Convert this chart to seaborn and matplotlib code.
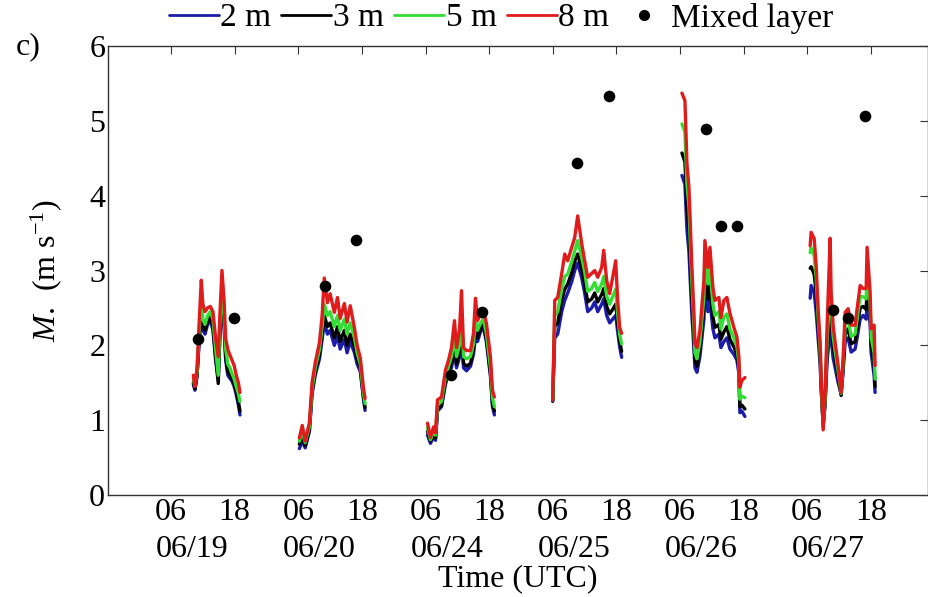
import numpy as np
import pandas as pd
import matplotlib
matplotlib.use("Agg")
import matplotlib.pyplot as plt
from matplotlib.lines import Line2D
import seaborn as sns

# ---------------- data ----------------
days = ["06/19", "06/20", "06/24", "06/25", "06/26", "06/27"]
heights = ["2 m", "3 m", "5 m", "8 m"]

t1 = [10.2, 10.5, 10.9, 11.3, 11.7, 12.0, 12.4, 12.9, 13.4, 13.9, 14.4, 14.9, 15.2, 15.6, 16.0, 16.3, 16.7, 17.1, 17.5, 17.9, 18.3, 18.7, 19.0]
r1 = [1.60, 1.45, 1.70, 2.30, 2.87, 2.55, 2.45, 2.50, 2.52, 2.45, 2.10, 1.85, 2.40, 3.00, 2.60, 2.09, 1.95, 1.87, 1.80, 1.73, 1.60, 1.50, 1.37]
g1 = [1.55, 1.45, 1.65, 2.20, 2.60, 2.35, 2.28, 2.40, 2.45, 2.35, 1.95, 1.60, 2.25, 2.80, 2.40, 1.95, 1.75, 1.70, 1.62, 1.55, 1.45, 1.35, 1.25]
k1 = [1.50, 1.42, 1.60, 2.10, 2.45, 2.25, 2.20, 2.32, 2.38, 2.25, 1.85, 1.49, 2.15, 2.70, 2.30, 1.85, 1.65, 1.60, 1.55, 1.48, 1.38, 1.25, 1.12]
b1 = [1.48, 1.40, 1.58, 2.05, 2.40, 2.20, 2.15, 2.28, 2.34, 2.20, 1.80, 1.55, 2.10, 2.65, 2.25, 1.80, 1.60, 1.56, 1.52, 1.45, 1.34, 1.20, 1.07]

t2 = [6.2, 6.75, 7.3, 8.1, 8.6, 9.2, 10.0, 10.5, 10.9, 11.5, 12.0, 12.8, 13.4, 13.9, 14.7, 15.2, 15.8, 16.6, 17.1, 17.7, 18.3, 18.6]
r2 = [0.76, 0.93, 0.72, 0.97, 1.50, 1.77, 2.04, 2.40, 2.90, 2.57, 2.69, 2.44, 2.64, 2.36, 2.56, 2.31, 2.53, 2.23, 2.00, 1.83, 1.43, 1.29]
g2 = [0.72, 0.85, 0.70, 0.92, 1.42, 1.70, 1.95, 2.25, 2.55, 2.40, 2.45, 2.25, 2.40, 2.20, 2.35, 2.15, 2.30, 2.10, 1.90, 1.75, 1.35, 1.22]
k2 = [0.68, 0.78, 0.66, 0.88, 1.38, 1.65, 1.88, 2.15, 2.40, 2.25, 2.30, 2.10, 2.25, 2.05, 2.20, 2.00, 2.15, 1.98, 1.82, 1.70, 1.30, 1.17]
b2 = [0.62, 0.72, 0.63, 0.85, 1.35, 1.60, 1.82, 2.08, 2.30, 2.15, 2.20, 2.00, 2.12, 1.95, 2.08, 1.90, 2.05, 1.90, 1.75, 1.65, 1.28, 1.13]

t3 = [6.38, 6.94, 7.51, 7.89, 8.26, 9.02, 9.77, 10.34, 10.9, 11.47, 11.85, 12.41, 12.79, 13.17, 13.73, 14.49, 15.05, 15.43, 15.81, 16.37, 16.94, 17.5, 18.26, 18.63, 19.0]
r3 = [0.96, 0.77, 0.91, 0.83, 1.27, 1.31, 1.67, 1.80, 1.97, 2.33, 1.97, 2.20, 2.73, 1.97, 1.93, 1.93, 2.16, 2.63, 2.33, 2.42, 2.47, 2.29, 1.84, 1.40, 1.31]
g3 = [0.90, 0.74, 0.85, 0.80, 1.20, 1.25, 1.58, 1.72, 1.85, 2.10, 1.85, 2.00, 2.40, 1.85, 1.82, 1.85, 2.02, 2.35, 2.20, 2.30, 2.35, 2.15, 1.70, 1.30, 1.18]
k3 = [0.85, 0.72, 0.80, 0.76, 1.15, 1.20, 1.52, 1.66, 1.76, 1.98, 1.75, 1.90, 2.25, 1.76, 1.72, 1.76, 1.94, 2.20, 2.10, 2.22, 2.28, 2.08, 1.62, 1.22, 1.12]
b3 = [0.80, 0.69, 0.78, 0.73, 1.12, 1.18, 1.48, 1.62, 1.70, 1.92, 1.70, 1.84, 2.15, 1.70, 1.66, 1.72, 1.88, 2.12, 2.05, 2.18, 2.24, 2.04, 1.58, 1.18, 1.07]

t4 = [6.0, 6.38, 6.94, 7.7, 8.26, 8.83, 9.58, 10.15, 10.71, 11.47, 12.03, 12.6, 13.35, 13.92, 14.49, 15.24, 15.62, 16.18, 16.75, 17.31, 17.88, 18.26, 18.63, 19.0]
r4 = [1.27, 2.60, 2.64, 2.96, 3.22, 3.13, 3.31, 3.44, 3.73, 3.36, 3.13, 2.91, 2.96, 3.00, 2.91, 3.04, 3.27, 2.87, 2.69, 2.91, 3.13, 2.60, 2.24, 2.16]
g4 = [1.27, 2.40, 2.45, 2.75, 2.92, 2.95, 3.12, 3.26, 3.40, 3.18, 2.98, 2.72, 2.76, 2.84, 2.72, 2.82, 2.92, 2.66, 2.55, 2.65, 2.75, 2.42, 2.14, 2.02]
k4 = [1.26, 2.25, 2.30, 2.60, 2.75, 2.82, 2.97, 3.12, 3.22, 3.02, 2.82, 2.58, 2.62, 2.70, 2.58, 2.68, 2.76, 2.52, 2.42, 2.48, 2.55, 2.30, 2.06, 1.92]
b4 = [1.25, 2.10, 2.15, 2.45, 2.60, 2.70, 2.85, 3.00, 3.10, 2.90, 2.70, 2.45, 2.50, 2.58, 2.45, 2.55, 2.62, 2.40, 2.30, 2.35, 2.40, 2.18, 1.98, 1.84]

t5 = [6.38, 6.94, 7.13, 7.32, 7.7, 7.89, 8.26, 8.64, 8.83, 9.21, 9.77, 10.53, 10.71, 11.28, 11.66, 12.22, 12.6, 13.35, 13.73, 14.3, 14.86, 15.43, 16.18, 16.75, 17.13, 17.31, 17.69, 18.26]
r5 = [5.37, 5.27, 4.87, 4.43, 4.11, 3.76, 3.04, 2.43, 2.03, 1.97, 2.20, 2.87, 3.40, 3.04, 3.31, 2.77, 2.60, 2.64, 2.37, 2.60, 2.64, 2.43, 2.24, 2.11, 1.84, 1.44, 1.53, 1.57]
g5 = [4.96, 4.85, 4.50, 4.15, 3.85, 3.50, 2.82, 2.25, 1.90, 1.82, 2.05, 2.65, 3.15, 2.82, 3.02, 2.55, 2.40, 2.45, 2.22, 2.38, 2.42, 2.22, 2.10, 1.98, 1.76, 1.28, 1.32, 1.30]
k5 = [4.57, 4.45, 4.15, 3.85, 3.55, 3.25, 2.60, 2.10, 1.80, 1.72, 1.95, 2.50, 2.95, 2.62, 2.80, 2.38, 2.24, 2.28, 2.08, 2.18, 2.25, 2.08, 1.98, 1.88, 1.70, 1.18, 1.20, 1.15]
b5 = [4.27, 4.15, 3.85, 3.55, 3.25, 2.95, 2.40, 1.95, 1.70, 1.64, 1.85, 2.35, 2.75, 2.45, 2.60, 2.22, 2.10, 2.15, 1.97, 2.05, 2.10, 1.95, 1.88, 1.80, 1.62, 1.10, 1.12, 1.05]

t6 = [6.57, 6.75, 7.32, 7.7, 8.07, 8.45, 8.64, 9.02, 9.39, 9.77, 10.34, 10.53, 10.9, 11.28, 11.85, 12.41, 12.79, 13.17, 13.73, 14.3, 15.05, 15.43, 16.0, 16.56, 17.13, 17.31, 17.88, 18.07, 18.63, 18.82]
r6 = [3.33, 3.51, 3.43, 3.07, 2.49, 2.04, 1.60, 0.87, 1.37, 2.27, 3.43, 2.71, 2.27, 2.04, 1.73, 1.37, 1.83, 2.44, 2.49, 2.27, 2.27, 2.49, 2.80, 2.76, 2.76, 3.31, 2.71, 2.22, 2.27, 1.73]
g6 = [3.24, 3.30, 3.20, 2.90, 2.38, 1.95, 1.55, 0.90, 1.30, 2.08, 2.75, 2.50, 2.12, 1.92, 1.65, 1.36, 1.78, 2.28, 2.35, 2.12, 2.15, 2.35, 2.65, 2.65, 2.62, 2.95, 2.58, 2.10, 1.90, 1.55]
k6 = [3.03, 3.05, 2.95, 2.70, 2.25, 1.85, 1.48, 0.92, 1.25, 1.95, 2.50, 2.35, 2.00, 1.82, 1.58, 1.33, 1.72, 2.15, 2.22, 2.02, 2.05, 2.22, 2.50, 2.52, 2.48, 2.75, 2.45, 2.00, 1.75, 1.45]
b6 = [2.63, 2.80, 2.70, 2.45, 2.10, 1.75, 1.40, 0.95, 1.20, 1.80, 2.20, 2.10, 1.83, 1.70, 1.50, 1.35, 1.65, 2.05, 2.10, 1.91, 1.95, 2.10, 2.35, 2.40, 2.35, 2.55, 2.30, 1.90, 1.60, 1.37]

# Mixed layer values: day index, local hour, value
ml_day = [0, 0, 1, 1, 2, 2, 3, 3, 4, 4, 4, 5, 5, 5]
ml_hour = [11.1, 17.9, 11.0, 16.9, 10.8, 16.6, 10.6, 16.6, 10.9, 13.7, 16.7, 10.8, 13.7, 16.9]
ml_val = [2.09, 2.37, 2.79, 3.41, 1.61, 2.45, 4.43, 5.33, 4.89, 3.59, 3.59, 2.47, 2.36, 5.07]

tick_hours = [6, 18]
tick_labels = ["06", "18"]

# ---------------- build long table ----------------
times = [t1, t2, t3, t4, t5, t6]
series = {
    "2 m": [b1, b2, b3, b4, b5, b6],
    "3 m": [k1, k2, k3, k4, k5, k6],
    "5 m": [g1, g2, g3, g4, g5, g6],
    "8 m": [r1, r2, r3, r4, r5, r6],
}
rows = []
for h in heights:
    for d, (tt, vv) in enumerate(zip(times, series[h])):
        for t, v in zip(tt, vv):
            rows.append({"x": 24 * d + t, "M": v, "height": h, "day": d})
df = pd.DataFrame(rows)
ml = pd.DataFrame({"x": [24 * d + h for d, h in zip(ml_day, ml_hour)], "M": ml_val})

# ---------------- style ----------------
sns.set_theme(style="white")
plt.rcParams["font.family"] = ["Liberation Serif", "DejaVu Serif"]
plt.rcParams["mathtext.fontset"] = "custom"
plt.rcParams["mathtext.rm"] = "Liberation Serif"
plt.rcParams["mathtext.it"] = "Liberation Serif:italic"
plt.rcParams["text.color"] = "black"

FS = 23
palette = {"2 m": "#1c1ca8", "3 m": "#000000", "5 m": "#33dd33", "8 m": "#e01b1b"}

fig = plt.figure(figsize=(9.29, 5.97), dpi=100)
ax = fig.add_axes([108 / 929, 102 / 597, 820 / 929, 449 / 597])

sns.lineplot(data=df, x="x", y="M", hue="height", units="day", estimator=None,
             sort=False, palette=palette, hue_order=heights, linewidth=2.4,
             legend=False, ax=ax)
sns.scatterplot(data=ml, x="x", y="M", color="black", s=70, edgecolor="black",
                linewidth=0, ax=ax, zorder=5)

ax.set_xlim(-5.9, 148.8)
ax.set_ylim(0, 6)
ax.set_yticks(range(0, 7))
major = [24 * d + h for d in range(len(days)) for h in tick_hours]
ax.set_xticks(major, tick_labels * len(days))
ax.set_xticks([24 * d + 10 for d in range(len(days))], days, minor=True)
ax.tick_params(axis="both", which="major", direction="in", length=6, width=0.8,
               top=True, right=True, labelsize=FS, pad=2, colors="#333333",
               labelcolor="black")
ax.tick_params(axis="x", which="minor", length=0, pad=29, labelsize=FS,
               labelcolor="black")
for s in ax.spines.values():
    s.set_color("#333333")
    s.set_linewidth(1.0)

ax.set_xlabel("Time (UTC)", fontsize=FS, labelpad=0, color="black")
ax.set_ylabel(r"$M$.  (m s$^{-1}$)", fontsize=FS, labelpad=18, color="black")

fig.text(28 / 929, 1 - 47 / 597, "c)", fontsize=FS, ha="center", va="center")

handles = [Line2D([], [], color=palette[h], lw=2) for h in heights]
handles.append(Line2D([], [], color="black", marker="o", ls="none", markersize=7))
fig.legend(handles, heights + ["Mixed layer"], loc="center", ncol=5,
           bbox_to_anchor=(501 / 929, 1 - 18 / 597), frameon=False, fontsize=24,
           handlelength=1.5, handletextpad=0.05, columnspacing=0.3,
           borderaxespad=0, borderpad=0)

fig.savefig("out.png", dpi=100)
